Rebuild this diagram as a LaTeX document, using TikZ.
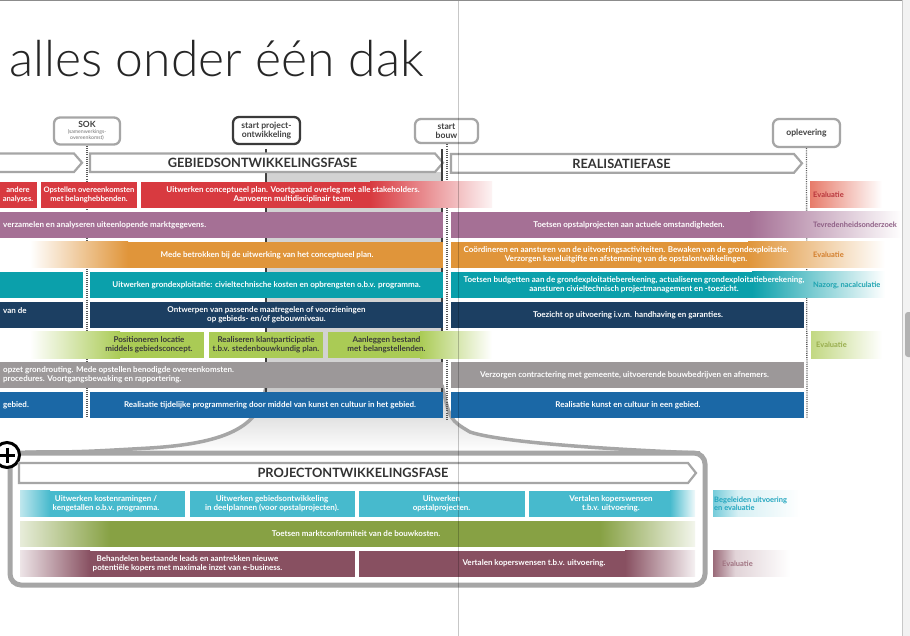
\documentclass[tikz,border=0pt]{standalone}
\usepackage{fontspec}
\setmainfont{Lato}
\newfontfamily\titlefont{Lato Light}
\definecolor{cRed}{HTML}{D83A40}
\definecolor{cSalmon}{HTML}{E77B6A}
\definecolor{cEvR}{HTML}{B8363C}
\definecolor{cPurple}{HTML}{A57095}
\definecolor{cPurpleT}{HTML}{8E5F85}
\definecolor{cOrange}{HTML}{E0953A}
\definecolor{cOrangeT}{HTML}{D37E2C}
\definecolor{cTeal}{HTML}{0BA0AB}
\definecolor{cTealT}{HTML}{1DA3B0}
\definecolor{cNavy}{HTML}{1C3F62}
\definecolor{cLGreen}{HTML}{AACB55}
\definecolor{cLGreenE}{HTML}{C2D882}
\definecolor{cLGreenT}{HTML}{98AD4C}
\definecolor{cGray}{HTML}{9C9899}
\definecolor{cBlue}{HTML}{1B68A6}
\definecolor{cCyan}{HTML}{47BACD}
\definecolor{cCyanT}{HTML}{22A6BF}
\definecolor{cOlive}{HTML}{87A144}
\definecolor{cMaroon}{HTML}{885061}
\definecolor{cBand}{HTML}{D2D2D2}
\definecolor{cBorder}{HTML}{A6A6A6}
\definecolor{cDark}{HTML}{3A3A3A}
\begin{document}
\begin{tikzpicture}[x=1pt,y=-1pt,
  bt/.style={font=\bfseries\fontsize{8}{9.2}\selectfont, text=white, align=center, inner sep=0pt},
  btl/.style={bt, anchor=west, align=left},
  btd/.style={bt, text=cDark},
  lab/.style={font=\bfseries\fontsize{7.5}{9}\selectfont, anchor=west, align=left, inner sep=0pt},
  phasetxt/.style={font=\bfseries\fontsize{12.8}{13}\selectfont, text=black!80, inner sep=0pt},
  phase/.style={draw=cBorder, line width=2.2pt, fill=white, line join=miter},
  ms/.style={draw=cBorder, line width=2.3pt, fill=white, rounded corners=6pt, align=center, inner sep=0pt, text=black!75},
  dotline/.style={draw=black!65, line width=1.3pt, dash pattern=on 1pt off 1.2pt},
  darkline/.style={draw=black!75, line width=2.8pt},
  funnel/.style={draw=cBorder, line width=3.5pt}]
\useasboundingbox (0,0) rectangle (910,636);
\fill[white] (0,0) rectangle (910,636);

% title
\node[anchor=base west, inner sep=0pt, font=\titlefont\fontsize{49.8}{50}\selectfont, text=black!85] (title) at (9,77) {alles onder één dak};

% gray project band and funnel
\fill[cBand] (266,172) rectangle (442,418);
\shade[top color=black!22, bottom color=white] (266,385) .. controls (262,425) and (230,443) .. (150,448) .. controls (80,452) .. (25,452) -- (700,452) .. controls (600,449) and (500,442) .. (470,432) .. controls (450,420) .. (442,385) -- cycle;
\coordinate (fl1) at (266,385);
\coordinate (fl2) at (25,452);
\coordinate (fr1) at (442,385);
\coordinate (fr2) at (700,453);
\draw[funnel] (fl1) .. controls (262,425) and (230,443) .. (150,448) .. controls (80,452) .. (fl2);
\draw[funnel] (fr1) .. controls (450,420) .. (470,432) .. controls (500,442) and (600,449) .. (fr2);

% milestones
\node[ms, minimum width=66pt, minimum height=27pt, font=\fontsize{5.2}{5.6}\selectfont] (sok) at (87,131) {{\fontsize{8.5}{9}\selectfont\bfseries SOK}\\[0.5pt]{\color{black!55}(samenwerkings-}\\{\color{black!55}overeenkomst)}};
\node[ms, draw=cDark, minimum width=67pt, minimum height=27pt, font=\bfseries\fontsize{8.6}{9.6}\selectfont] (spo) at (266.5,130.5) {start project-\\ontwikkeling};
\node[ms, minimum width=63pt, minimum height=24pt, font=\bfseries\fontsize{8.6}{9.6}\selectfont] (sb) at (446.5,131) {start\\bouw};
\node[ms, minimum width=67pt, minimum height=28pt, font=\bfseries\fontsize{8.6}{9.6}\selectfont] (opl) at (806.5,133) {oplevering};

\coordinate (sokEnd) at (87,418);
\coordinate (spoTop) at (266,149);
\coordinate (spoEnd) at (266,418);
\coordinate (sbEnd) at (447,420);
\coordinate (oplEnd) at (807,418);
\coordinate (gdTop) at (442,149);
\coordinate (gdEnd) at (442,418);

\draw[darkline] (spoTop) -- (spoEnd);
\draw[dotline] (sok.south) -- (sokEnd);
\draw[dotline] (sb.south -| sbEnd) -- (sbEnd);
\draw[dotline] (opl.south) -- (oplEnd);

% phase arrows
\fill[white] (0,153.5) -- (74,153.5) -- (82,162.7) -- (74,172) -- (0,172) -- cycle;
\draw[phase, fill=none] (0,153.5) -- (74,153.5) -- (82,162.7) -- (74,172) -- (0,172);
\draw[phase] (90,153.5) -- (435,153.5) -- (443,162.7) -- (435,172) -- (90,172) -- cycle;
\node[phasetxt] (gof) at (262.5,163) {GEBIEDSONTWIKKELINGSFASE};
\draw[phase] (451,154) -- (794,154) -- (802,163.3) -- (794,172.7) -- (451,172.7) -- cycle;
\node[phasetxt] (rf) at (621.5,163.5) {REALISATIEFASE};
\draw[darkline] (gdTop) -- (gdEnd);

% row 1 red
\fill[cRed] (0,181.7) rectangle (37,208);
\fill[cRed] (41,181.7) rectangle (137,208);
\fill[cRed] (140.5,181.7) rectangle (370,208);
\shade[left color=cRed, right color=cRed!6] (370,181.7) rectangle (492,208);
\shade[left color=cSalmon, right color=white] (810,181.7) rectangle (882,208);
\node[bt, font=\bfseries\fontsize{7.6}{9.2}\selectfont] (r1a) at (18,194.9) {andere\\analyses.};
\node[bt, font=\bfseries\fontsize{7.6}{9.2}\selectfont] (r1b) at (89,194.9) {Opstellen overeenkomsten\\met belanghebbenden.};
\node[bt] (r1c) at (293,194.9) {Uitwerken conceptueel plan. Voortgaand overleg met alle stakeholders.\\Aanvoeren multidisciplinair team.};
\node[lab, text=cEvR] (r1e) at (813,194.9) {Evaluatie};

% row 2 purple
\fill[cPurple] (0,211.7) rectangle (443,238);
\fill[cPurple] (451,211.7) rectangle (750,238);
\shade[left color=cPurple, right color=white] (750,211.7) rectangle (902,238);
\node[btl] (r2a) at (3,224.9) {verzamelen en analyseren uiteenlopende marktgegevens.};
\node[bt] (r2b) at (629,224.9) {Toetsen opstalprojecten aan actuele omstandigheden.};
\node[lab, text=cPurpleT] (r2e) at (813,224.9) {Tevredenheidsonderzoek};

% row 3 orange
\shade[left color=white, right color=cOrange] (30,241.7) rectangle (128,268);
\fill[cOrange] (128,241.7) rectangle (443,268);
\fill[cOrange] (451,241.7) rectangle (748,268);
\shade[left color=cOrange, right color=white] (748,241.7) rectangle (885,268);
\node[bt] (r3a) at (267,254.9) {Mede betrokken bij de uitwerking van het conceptueel plan.};
\node[bt] (r3b) at (626,254.9) {Coördineren en aansturen van de uitvoeringsactiviteiten. Bewaken van de grondexploitatie.\\Verzorgen kaveluitgifte en afstemming van de opstalontwikkelingen.};
\node[lab, text=cOrangeT] (r3e) at (813,254.9) {Evaluatie};

% row 4 teal
\fill[cTeal] (0,271.7) rectangle (83,298);
\fill[cTeal] (90,271.7) rectangle (443,298);
\fill[cTeal] (451,271.7) rectangle (752,298);
\shade[left color=cTeal, right color=white] (752,271.7) rectangle (885,298);
\node[bt] (r4a) at (266.5,284.9) {Uitwerken grondexploitatie: civieltechnische kosten en opbrengsten o.b.v. programma.};
\node[bt] (r4b) at (634,284.9) {Toetsen budgetten aan de grondexploitatieberekening, actualiseren grondexploitatieberekening,\\aansturen civieltechnisch projectmanagement en -toezicht.};
\node[lab, text=cTealT] (r4e) at (813,284.9) {Nazorg, nacalculatie};

% row 5 navy
\fill[cNavy] (0,301.7) rectangle (83,328);
\fill[cNavy] (90,301.7) rectangle (443,328);
\fill[cNavy] (451,301.7) rectangle (804,328);
\node[btl] (r5a) at (3,311) {van de};
\node[bt] (r5b) at (266.5,314.9) {Ontwerpen van passende maatregelen of voorzieningen\\op gebieds- en/of gebouwniveau.};
\node[bt] (r5c) at (628,314.9) {Toezicht op uitvoering i.v.m. handhaving en garanties.};

% row 6 light green
\shade[left color=white, right color=cLGreen] (30,331.7) rectangle (120,358);
\fill[cLGreen] (120,331.7) rectangle (204,358);
\fill[cLGreen] (209,331.7) rectangle (323,358);
\fill[cLGreen] (328,331.7) rectangle (420,358);
\shade[left color=cLGreen, right color=white] (420,331.7) rectangle (492,358);
\shade[left color=cLGreenE, right color=white] (811,331.7) rectangle (882,358);
\node[btd] (r6a) at (149,344.9) {Positioneren locatie\\middels gebiedsconcept.};
\node[btd] (r6b) at (266,344.9) {Realiseren klantparticipatie\\t.b.v. stedenbouwkundig plan.};
\node[btd] (r6c) at (386.5,344.9) {Aanleggen bestand\\met belangstellenden.};
\node[lab, text=cLGreenT] (r6e) at (816,344.9) {Evaluatie};

% row 7 gray
\fill[cGray] (0,361.7) rectangle (443,388);
\fill[cGray] (451,361.7) rectangle (804,388);
\node[btl] (r7a) at (3,374.9) {opzet grondrouting. Mede opstellen benodigde overeenkomsten.\\procedures. Voortgangsbewaking en rapportering.};
\node[bt] (r7b) at (624.5,374.9) {Verzorgen contractering met gemeente, uitvoerende bouwbedrijven en afnemers.};

% row 8 blue
\fill[cBlue] (0,391.7) rectangle (83,418);
\fill[cBlue] (90,391.7) rectangle (443,418);
\fill[cBlue] (451,391.7) rectangle (804,418);
\node[btl] (r8a) at (3,404.9) {gebied.};
\node[bt] (r8b) at (270,404.9) {Realisatie tijdelijke programmering door middel van kunst en cultuur in het gebied.};
\node[bt] (r8c) at (628,404.9) {Realisatie kunst en cultuur in een gebied.};

% project box
\draw[draw=cBorder, line width=5pt, rounded corners=11pt] (10,453) rectangle (705,585);
\node[circle, draw=black, line width=3pt, fill=white, minimum size=25pt, inner sep=0pt] (plus) at (7,455) {};
\draw[line width=3pt] (plus.center) ++(-7.5,0) -- ++(15,0);
\draw[line width=3pt] (plus.center) ++(0,-7.5) -- ++(0,15);

% project phase arrow
\draw[phase] (19,463) -- (688,463) -- (696,473) -- (688,483) -- (19,483) -- cycle;
\node[phasetxt] (pof) at (353,473.3) {PROJECTONTWIKKELINGSFASE};

% bottom row A cyan
\shade[left color=cCyan!35, right color=cCyan] (20,490.7) rectangle (50,516.7);
\fill[cCyan] (50,490.7) rectangle (185,516.7);
\fill[cCyan] (189.5,490.7) rectangle (354.5,516.7);
\fill[cCyan] (359,490.7) rectangle (524.5,516.7);
\fill[cCyan] (529,490.7) rectangle (670,516.7);
\shade[left color=cCyan, right color=cCyan!8] (670,490.7) rectangle (695,516.7);
\shade[left color=cCyan!75, right color=cCyan!22] (713,490.7) rectangle (738,516.7);
\shade[left color=cCyan!22, right color=white] (738,490.7) rectangle (800,516.7);
\node[bt] (ba1) at (106,503.7) {Uitwerken kostenramingen /\\kengetallen o.b.v. programma.};
\node[bt] (ba2) at (272,503.7) {Uitwerken gebiedsontwikkeling\\in deelplannen (voor opstalprojecten).};
\node[bt] (ba3) at (441.5,503.7) {Uitwerken\\opstalprojecten.};
\node[bt] (ba4) at (611,503.7) {Vertalen koperswensen\\t.b.v. uitvoering.};
\node[lab, text=cCyanT, font=\bfseries\fontsize{7.5}{8.6}\selectfont] (bae) at (714,503.7) {Begeleiden uitvoering\\en evaluatie};

% bottom row B olive
\shade[left color=cOlive!20, right color=cOlive] (20,521) rectangle (110,546.7);
\fill[cOlive] (110,521) rectangle (600,546.7);
\shade[left color=cOlive, right color=cOlive!10] (600,521) rectangle (695,546.7);
\node[bt] (bb1) at (356,533.9) {Toetsen marktconformiteit van de bouwkosten.};

% bottom row C maroon
\shade[left color=cMaroon!15, right color=cMaroon] (20,550.7) rectangle (90,576.7);
\fill[cMaroon] (90,550.7) rectangle (354.5,576.7);
\fill[cMaroon] (359,550.7) rectangle (625,576.7);
\shade[left color=cMaroon, right color=cMaroon!8] (625,550.7) rectangle (695,576.7);
\shade[left color=cMaroon!85, right color=cMaroon!25] (713,550.7) rectangle (735,576.7);
\shade[left color=cMaroon!25, right color=white] (735,550.7) rectangle (790,576.7);
\node[bt] (bc1) at (187.5,563.7) {Behandelen bestaande leads en aantrekken nieuwe\\potentiële kopers met maximale inzet van e-business.};
\node[bt] (bc2) at (534,563.7) {Vertalen koperswensen t.b.v. uitvoering.};
\node[lab, text=cMaroon!80!white] (bce) at (722,563.7) {Evaluatie};

% page fold, top rule, right strip
\draw[black, opacity=0.22, line width=0.6pt] (458,0) -- (458,636);
\draw[black!45, line width=1.2pt] (0,0.6) -- (902,0.6);
\fill[black!5] (902,0) rectangle (910,636);
\draw[black!22, line width=0.6pt] (902,0) -- (902,636);
\fill[black!30, rounded corners=3pt] (905,312) rectangle (913,357);
\end{tikzpicture}
\end{document}
